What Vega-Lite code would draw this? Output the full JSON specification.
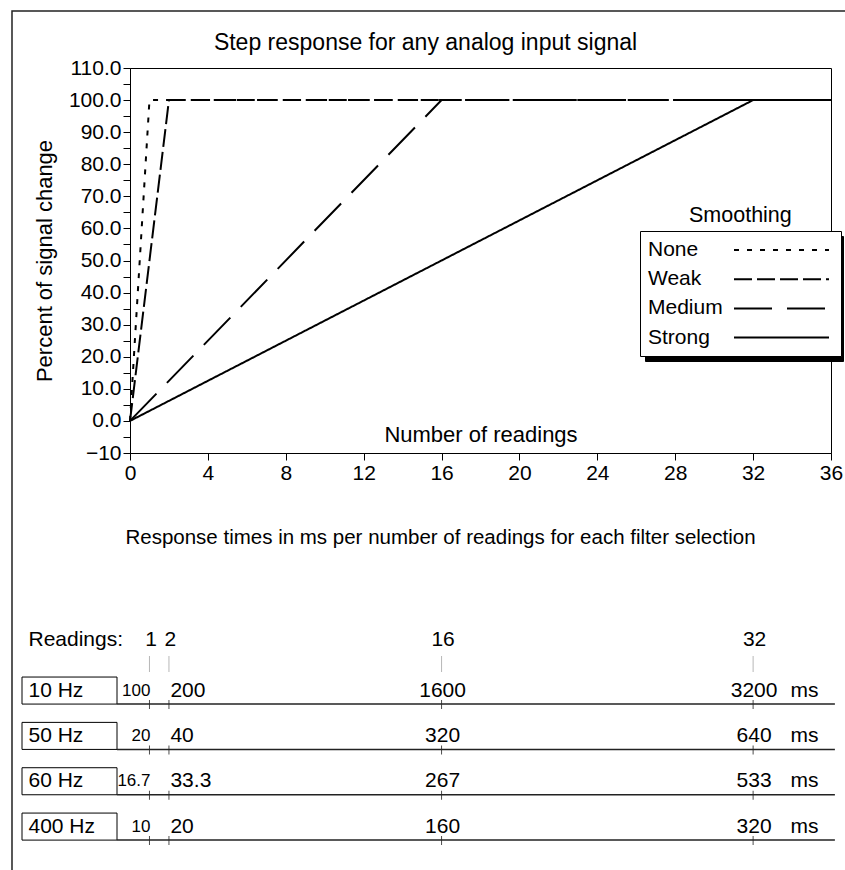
{
  "$schema": "https://vega.github.io/schema/vega-lite/v6.json",
  "width": 701,
  "height": 385,
  "autosize": "none",
  "padding": {"left": 130, "top": 68, "right": 14, "bottom": 417},
  "background": "white",
  "title": {
    "text": "Step response for any analog input signal",
    "anchor": "middle",
    "frame": "group",
    "dx": -55,
    "fontSize": 23,
    "fontWeight": "normal",
    "font": "Liberation Sans",
    "color": "black",
    "offset": -63,
    "baseline": "alphabetic"
  },
  "config": {
    "font": "Liberation Sans",
    "view": {"stroke": "black", "strokeWidth": 1},
    "axis": {
      "domainColor": "black", "tickColor": "black", "labelColor": "black", "titleColor": "black",
      "labelFont": "Liberation Sans", "titleFont": "Liberation Sans",
      "labelFontSize": 21, "titleFontSize": 22, "titleFontWeight": "normal",
      "grid": false, "domainWidth": 1, "tickWidth": 1
    },
    "legend": {
      "labelFont": "Liberation Sans", "titleFont": "Liberation Sans",
      "labelFontSize": 21, "titleFontSize": 21.5, "titleFontWeight": "normal",
      "labelColor": "black", "titleColor": "black"
    },
    "text": {"font": "Liberation Sans", "fontSize": 21, "color": "black"}
  },
  "datasets": {
    "frame": [{"part": "figure border"}],
    "lines": [
      {"smoothing": "None", "readings": 0, "pct": 0},
      {"smoothing": "None", "readings": 1, "pct": 100},
      {"smoothing": "None", "readings": 36, "pct": 100},
      {"smoothing": "Weak", "readings": 0, "pct": 0},
      {"smoothing": "Weak", "readings": 2, "pct": 100},
      {"smoothing": "Weak", "readings": 36, "pct": 100},
      {"smoothing": "Medium", "readings": 0, "pct": 0},
      {"smoothing": "Medium", "readings": 16, "pct": 100},
      {"smoothing": "Medium", "readings": 36, "pct": 100},
      {"smoothing": "Strong", "readings": 0, "pct": 0},
      {"smoothing": "Strong", "readings": 32, "pct": 100},
      {"smoothing": "Strong", "readings": 36, "pct": 100}
    ],
    "table": [
      {"freq": "10 Hz", "readings": 1, "ms": 100},
      {"freq": "10 Hz", "readings": 2, "ms": 200},
      {"freq": "10 Hz", "readings": 16, "ms": 1600},
      {"freq": "10 Hz", "readings": 32, "ms": 3200},
      {"freq": "50 Hz", "readings": 1, "ms": 20},
      {"freq": "50 Hz", "readings": 2, "ms": 40},
      {"freq": "50 Hz", "readings": 16, "ms": 320},
      {"freq": "50 Hz", "readings": 32, "ms": 640},
      {"freq": "60 Hz", "readings": 1, "ms": 16.7},
      {"freq": "60 Hz", "readings": 2, "ms": 33.3},
      {"freq": "60 Hz", "readings": 16, "ms": 267},
      {"freq": "60 Hz", "readings": 32, "ms": 533},
      {"freq": "400 Hz", "readings": 1, "ms": 10},
      {"freq": "400 Hz", "readings": 2, "ms": 20},
      {"freq": "400 Hz", "readings": 16, "ms": 160},
      {"freq": "400 Hz", "readings": 32, "ms": 320}
    ]
  },
  "layer": [
    {
      "data": {"name": "frame"},
      "mark": {"type": "rect", "filled": false, "stroke": "#222222", "strokeWidth": 1.5},
      "encoding": {
        "x": {"datum": -6.06, "type": "quantitative", "scale": {"domain": [0, 36], "nice": false, "zero": false}},
        "x2": {"datum": 37.5},
        "y": {"datum": 127.8, "type": "quantitative", "scale": {"domain": [-10, 110], "nice": false, "zero": false}, "axis": null},
        "y2": {"datum": -150}
      }
    },
    {
      "data": {"name": "lines"},
      "mark": {"type": "line", "strokeWidth": 2},
      "encoding": {
        "x": {
          "field": "readings", "type": "quantitative",
          "scale": {"domain": [0, 36], "nice": false, "zero": false},
          "axis": {
            "values": [0, 2, 4, 6, 8, 10, 12, 14, 16, 18, 20, 22, 24, 26, 28, 30, 32, 34, 36],
            "labelExpr": "datum.value % 4 == 0 ? datum.label : ''",
            "tickSize": 7, "labelPadding": 2, "labelFlush": false, "labelOverlap": false,
            "title": "Number of readings", "titleY": -12, "titleBaseline": "alphabetic"
          }
        },
        "y": {
          "field": "pct", "type": "quantitative",
          "scale": {"domain": [-10, 110], "nice": false, "zero": false},
          "axis": {
            "orient": "left",
            "values": [-10, -5, 0, 5, 10, 15, 20, 25, 30, 35, 40, 45, 50, 55, 60, 65, 70, 75, 80, 85, 90, 95, 100, 105, 110],
            "labelExpr": "datum.value % 10 != 0 ? '' : (datum.value == -10 ? '−10' : format(datum.value, '.1f'))",
            "labelFontSize": {"condition": {"test": "datum.value % 10 != 0", "value": 1}, "value": 21},
            "tickSize": 7, "labelPadding": 2, "labelOverlap": false, "labelFlush": false,
            "title": "Percent of signal change", "titlePadding": 12
          }
        },
        "strokeDash": {
          "field": "smoothing", "type": "nominal",
          "scale": {"domain": ["None", "Weak", "Medium", "Strong"], "range": [[5, 8], [18, 5], [38, 15], [1, 0]]},
          "legend": {
            "orient": "none", "legendX": 510, "legendY": 163, "title": null,
            "symbolType": "M-4.75,0H4.75", "symbolSize": 400, "symbolStrokeWidth": 2, "symbolStrokeColor": "black",
            "symbolFillColor": "transparent",
            "labelOffset": -144.5, "symbolOffset": 122.5, "rowPadding": 8.2,
            "padding": 8, "fillColor": "white", "strokeColor": "black", "zindex": 2
          }
        },
        "color": {
          "field": "smoothing", "type": "nominal",
          "scale": {"range": ["black"]},
          "legend": {
            "orient": "none", "legendX": 515, "legendY": 168, "title": null,
            "symbolType": "M-4.75,-1.05H4.75V1.05H-4.75Z", "symbolSize": 400, "symbolStrokeWidth": 0,
            "symbolFillColor": "black",
            "labelExpr": "''",
            "labelOffset": -145, "symbolOffset": 124, "rowPadding": 7.2,
            "padding": 8, "fillColor": "black", "strokeColor": "black", "zindex": 1
          }
        },
        "opacity": {
          "field": "smoothing", "type": "nominal",
          "scale": {"domain": ["Strong", "Medium", "Weak", "None"], "range": [1, 1]},
          "legend": {
            "orient": "none", "legendX": 559, "legendY": 137, "title": "Smoothing",
            "padding": 0, "symbolSize": 0, "symbolStrokeWidth": 0, "symbolStrokeColor": "transparent",
            "labelExpr": "''", "labelColor": "transparent", "zindex": 3
          }
        }
      }
    },
    {
      "data": {"name": "table"},
      "layer": [
        {
          "transform": [{"filter": "datum.readings == 1"}],
          "mark": {"type": "rect", "fill": "white", "stroke": "black", "strokeWidth": 1},
          "encoding": {
            "x": {"datum": -5.546, "type": "quantitative"},
            "x2": {"datum": -0.667},
            "y": {
              "field": "freq", "type": "nominal",
              "scale": {"type": "band", "domain": ["Readings:", "10 Hz", "50 Hz", "60 Hz", "400 Hz"], "range": [563.7, 772.1], "paddingInner": 0.404, "paddingOuter": 0},
              "axis": {
                "orient": "left", "domain": false, "ticks": false, "tickSize": 0,
                "labelAlign": "left", "labelPadding": 102, "labelBaseline": "middle",
                "labelOffset": {"condition": {"test": "datum.value == 'Readings:'", "value": -5}, "value": 0},
                "title": "Response times in ms per number of readings for each filter selection",
                "titleFontSize": 20.5,
                "titleAngle": 0, "titleX": 310, "titleY": 469, "titleAlign": "center", "titleBaseline": "middle"
              }
            }
          }
        },
        {
          "transform": [{"filter": "datum.readings == 1"}],
          "mark": {"type": "text", "align": "right", "baseline": "middle", "dx": 1, "fontSize": 17},
          "encoding": {
            "x": {"field": "readings", "type": "quantitative"},
            "y": {"field": "freq", "type": "nominal", "bandPosition": 0.5},
            "text": {"field": "ms", "type": "quantitative", "format": "~f"}
          }
        },
        {
          "transform": [{"filter": "datum.readings == 2"}],
          "mark": {"type": "text", "align": "left", "baseline": "middle", "dx": 1.5},
          "encoding": {
            "x": {"field": "readings", "type": "quantitative"},
            "y": {"field": "freq", "type": "nominal", "bandPosition": 0.5},
            "text": {"field": "ms", "type": "quantitative", "format": "~f"}
          }
        },
        {
          "transform": [{"filter": "datum.readings > 2"}],
          "mark": {"type": "text", "align": "center", "baseline": "middle", "dx": 1},
          "encoding": {
            "x": {"field": "readings", "type": "quantitative"},
            "y": {"field": "freq", "type": "nominal", "bandPosition": 0.5},
            "text": {"field": "ms", "type": "quantitative", "format": "~f"}
          }
        },
        {
          "mark": {"type": "tick", "size": 9, "thickness": 1, "color": "black", "yOffset": 14},
          "encoding": {
            "x": {"field": "readings", "type": "quantitative"},
            "y": {"field": "freq", "type": "nominal"}
          }
        },
        {
          "transform": [{"filter": "datum.freq == '10 Hz'"}],
          "mark": {"type": "text", "align": "center", "baseline": "middle", "dx": 1.5, "dy": -5},
          "encoding": {
            "x": {"field": "readings", "type": "quantitative"},
            "y": {"datum": "Readings:", "type": "nominal", "bandPosition": 0.5},
            "text": {"field": "readings", "type": "quantitative", "format": "d"}
          }
        },
        {
          "transform": [{"filter": "datum.freq == '10 Hz'"}],
          "mark": {"type": "tick", "size": 16, "thickness": 1, "color": "#999999", "yOffset": 18.8},
          "encoding": {
            "x": {"field": "readings", "type": "quantitative"},
            "y": {"datum": "Readings:", "type": "nominal"}
          }
        }
      ]
    },
    {
      "data": {"name": "table"},
      "transform": [{"filter": "datum.readings == 1"}],
      "mark": {"type": "rule", "color": "#222222", "strokeWidth": 1.5},
      "encoding": {
        "x": {"datum": -0.667, "type": "quantitative"},
        "x2": {"datum": 36.2},
        "y": {
          "field": "freq", "type": "nominal", "bandPosition": 1,
          "scale": {"type": "band", "domain": ["Readings:", "10 Hz", "50 Hz", "60 Hz", "400 Hz"], "range": [563.7, 772.1], "paddingInner": 0.404, "paddingOuter": 0},
          "axis": {
            "orient": "right", "domain": false, "ticks": false, "tickSize": 0,
            "labelAlign": "left", "labelPadding": -41, "labelBaseline": "middle",
            "labelExpr": "datum.value == 'Readings:' ? '' : 'ms'",
            "title": null
          }
        }
      }
    }
  ],
  "resolve": {"scale": {"y": "independent"}, "axis": {"y": "independent"}}
}
